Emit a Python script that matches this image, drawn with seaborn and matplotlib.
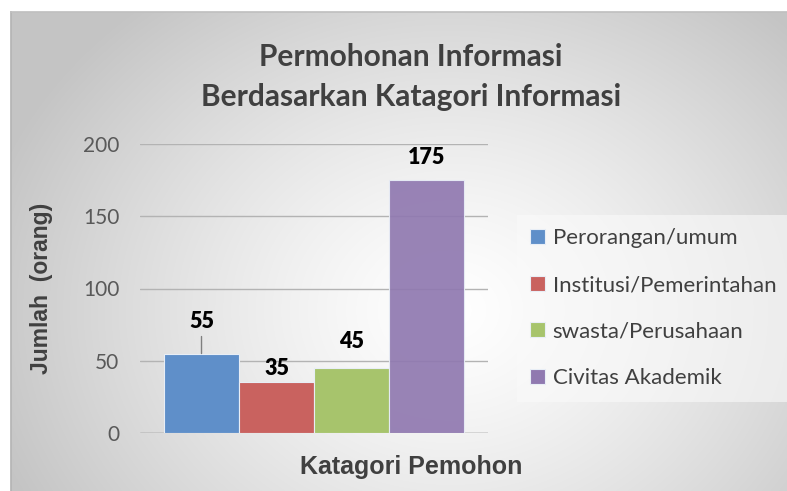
import numpy as np
import pandas as pd
import matplotlib
matplotlib.use("Agg")
import matplotlib.pyplot as plt
import seaborn as sns

# ---- data ----
categories = ["Perorangan/umum", "Institusi/Pemerintahan", "swasta/Perusahaan", "Civitas Akademik"]
values = [55, 35, 45, 175]
colors = ["#5f8fc9", "#c9625f", "#a7c46c", "#9079b0"]
title_lines = ["Permohonan Informasi", "Berdasarkan Katagori Informasi"]
yticks = [0, 50, 100, 150, 200]

df = pd.DataFrame({"grp": ["Katagori"] * len(categories), "cat": categories, "val": values})

sns.set_theme(style="white")
W, H = 787, 491
fig = plt.figure(figsize=(W / 100, H / 100), dpi=100)
fig.patch.set_facecolor("white")

# ---- background radial gradient panel ----
x0, y0 = 11, 12
bg = fig.add_axes([x0 / W, 0, 1 - x0 / W, 1 - y0 / H])
bw, bh = W - x0, H - y0
xx, yy = np.meshgrid(np.arange(bw) + x0, np.arange(bh) + y0)
cx, cy = 450, 310
d = np.sqrt(((xx - cx) / 1.15) ** 2 + ((yy - cy) / 0.95) ** 2)
v = 1 - 0.23 * np.clip(d / 420, 0, 1) ** 1.3
img = np.dstack([v, v, v])
bg.imshow(img, aspect="auto", extent=[0, 1, 0, 1])
bg.set_xticks([]); bg.set_yticks([])
for s in ["bottom", "right"]:
    bg.spines[s].set_visible(False)
bg.spines["left"].set_color("#b5b5b5")
bg.spines["top"].set_color("#c0c0c0")

# ---- main axes ----
ax = fig.add_axes([140 / W, 1 - 433 / H, 348 / W, (433 - 144) / H])
ax.set_facecolor("none")
sns.barplot(data=df, x="grp", y="val", hue="cat", palette=colors, width=0.862, gap=0,
            ax=ax, legend=True, edgecolor="#e8eef6", linewidth=0.8, saturation=1)
ax.set_xlim(-0.5, 0.5)
ax.set_ylim(0, 200)
ax.set_yticks(yticks)
ax.set_xticks([])
ax.yaxis.grid(True, color="#b3b3b3", linewidth=1.0)
ax.set_axisbelow(True)
for s in ax.spines.values():
    s.set_visible(False)
ax.axhline(0, color="#8c8c8c", linewidth=1.0, zorder=0.5)
ax.tick_params(axis="y", labelsize=15, labelcolor="#595959", length=0, pad=15)
for t in ax.get_yticklabels():
    t.set_fontfamily("Lato")
ax.set_xlabel("")
ax.set_ylabel("")

# purple slightly transparent
patches = [p for p in ax.patches if p.get_height() > 0]
patches.sort(key=lambda p: p.get_x())
patches[-1].set_alpha(0.92)

# data labels
offsets = [32, 14, 26, 23]
for p, val, off in zip(patches, values, offsets):
    xc = p.get_x() + p.get_width() / 2
    ax.annotate(f"{val}", xy=(xc, val), xytext=(0, off), textcoords="offset pixels",
                ha="center", va="center", fontsize=15.5, fontweight="heavy",
                fontfamily="Lato", color="black")
# leader line for first label
p0 = patches[0]
xc0 = p0.get_x() + p0.get_width() / 2
ax.annotate("", xy=(xc0, values[0]), xytext=(0, 17), xycoords="data", textcoords="offset pixels",
            arrowprops=dict(arrowstyle="-", color="#7f7f7f", lw=1.0, shrinkA=0, shrinkB=0))

# title
fig.text(411 / W, 1 - 57 / H, title_lines[0], ha="center", va="center", fontsize=21.5,
         fontweight="bold", fontfamily="Lato", color="#404040")
fig.text(411 / W, 1 - 97 / H, title_lines[1], ha="center", va="center", fontsize=21.5,
         fontweight="bold", fontfamily="Lato", color="#404040")

# axis labels
fig.text(42 / W, 1 - 288 / H, "Jumlah  (orang)", rotation=90, ha="center", va="center",
         fontsize=16.5, fontweight="bold", fontfamily="Liberation Sans", color="#404040")
fig.text(411 / W, 1 - 467 / H, "Katagori Pemohon", ha="center", va="center",
         fontsize=18, fontweight="bold", fontfamily="Liberation Sans", color="#404040")

# legend
handles, labels = ax.get_legend_handles_labels()
ax.get_legend().remove()
leg = fig.legend(handles, labels, loc="upper left", bbox_to_anchor=(517 / W, 1 - 215 / H),
                 frameon=True, fancybox=False, framealpha=0.6, facecolor="#fafafa",
                 edgecolor="none", handlelength=0.65, handleheight=0.65, handletextpad=0.35,
                 labelspacing=1.2, borderpad=0.6, borderaxespad=0,
                 prop={"family": "Lato", "size": 16})
for t in leg.get_texts():
    t.set_color("#404040")
for h in leg.legend_handles:
    h.set_edgecolor("#e8eef6")

fig.savefig("out.png", dpi=100)
